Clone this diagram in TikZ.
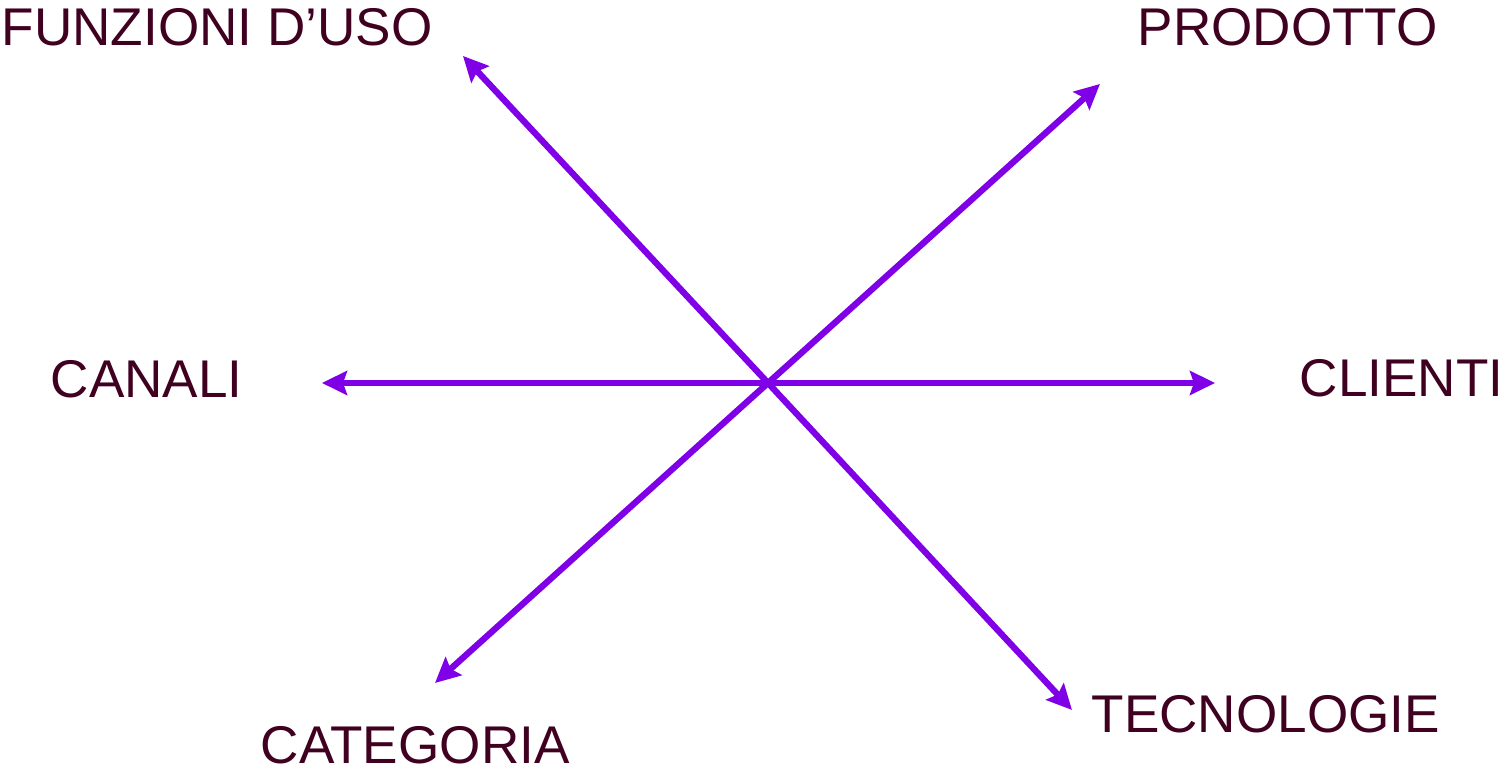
\documentclass[tikz,border=0pt]{standalone}
\usepackage{fontspec}
\setmainfont{Liberation Sans}
\usetikzlibrary{arrows.meta}
\definecolor{viola}{RGB}{127,0,230}
\definecolor{vinaccia}{RGB}{64,0,32}

\begin{document}
\begin{tikzpicture}[x=0.01cm,y=-0.01cm,
    freccia/.style={viola,line width=1.8pt,
      -{Stealth[length=0.25cm,width=0.24cm,inset=0.04cm]}},
    etichetta/.style={vinaccia,inner sep=0,anchor=base west,
      font=\fontsize{15.1}{18}\selectfont}]
  \useasboundingbox (0,0) rectangle (1505,768);
  \coordinate (centro) at (768,383);
  \coordinate (pFunzioni) at (463,56);
  \coordinate (pProdotto) at (1100,84);
  \coordinate (pCanali) at (322,383);
  \coordinate (pClienti) at (1215,383);
  \coordinate (pCategoria) at (435,683);
  \coordinate (pTecnologie) at (1072,710);
  \foreach \p in {Funzioni,Prodotto,Canali,Clienti,Categoria,Tecnologie}
    \draw[freccia] (centro) -- (p\p);
  \node[etichetta] (funzioni) at (1,46) {FUNZIONI D’USO};
  \node[etichetta] (prodotto) at (1137,46) {PRODOTTO};
  \node[etichetta] (canali) at (50,398) {CANALI};
  \node[etichetta] (clienti) at (1299,397) {CLIENTI};
  \node[etichetta] (categoria) at (260,764) {CATEGORIA};
  \node[etichetta] (tecnologie) at (1091,733) {TECNOLOGIE};
\end{tikzpicture}
\end{document}
